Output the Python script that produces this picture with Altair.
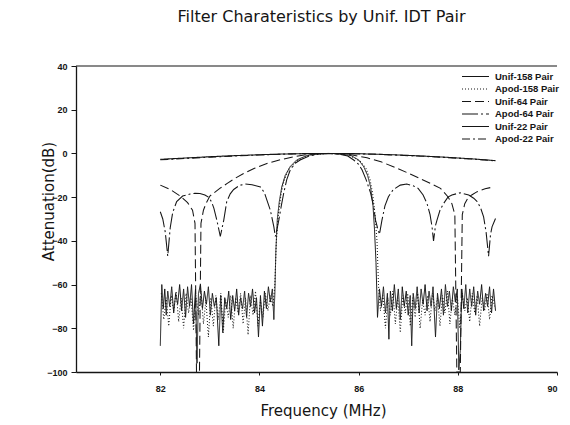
import altair as alt
import pandas as pd

# ---------------- data ----------------
NAMES = ["Unif-158 Pair", "Apod-158 Pair", "Unif-64 Pair", "Apod-64 Pair", "Unif-22 Pair", "Apod-22 Pair"]

U158_F = [82.00, 82.03, 82.06, 82.09, 82.12, 82.15, 82.19, 82.23, 82.27, 82.31, 82.35, 82.39, 82.43, 82.47,
          82.51, 82.55, 82.59, 82.63, 82.67, 82.71, 82.74, 82.77, 82.81, 82.85, 82.89, 82.93, 82.97, 83.01,
          83.05, 83.09, 83.13, 83.18, 83.22, 83.26, 83.30, 83.34, 83.38, 83.42, 83.46, 83.50, 83.54, 83.58,
          83.62, 83.66, 83.70, 83.74, 83.78, 83.82, 83.86, 83.90, 83.94, 83.98, 84.02, 84.06, 84.10, 84.14,
          84.18, 84.22, 84.26, 84.29,
          84.31, 84.33, 84.36, 84.40, 84.45, 84.52, 84.62, 84.75, 84.95, 85.15, 85.39, 85.65, 85.85, 86.00,
          86.10, 86.18, 86.24, 86.29, 86.32, 86.35, 86.38,
          86.42, 86.46, 86.50, 86.54, 86.58, 86.61, 86.64, 86.68, 86.72, 86.76, 86.80, 86.84, 86.88, 86.92,
          86.96, 87.00, 87.04, 87.07, 87.10, 87.14, 87.18, 87.22, 87.26, 87.30, 87.34, 87.38, 87.42, 87.46,
          87.50, 87.55, 87.59, 87.63, 87.67, 87.71, 87.75, 87.79, 87.83, 87.87, 87.91, 87.95, 87.99, 88.02,
          88.05, 88.08, 88.12, 88.16, 88.20, 88.24, 88.28, 88.32, 88.36, 88.40, 88.44, 88.48, 88.52, 88.56,
          88.60, 88.64, 88.68, 88.72, 88.76]
U158_A = [-88, -60, -71, -62, -74, -63, -70, -61, -73, -64, -69, -60, -72, -62,
          -75, -61, -70, -60, -78, -62, -96, -64, -60, -71, -63, -69, -61, -74,
          -64, -70, -66, -88, -65, -82, -66, -71, -63, -76, -65, -72, -62, -74,
          -66, -71, -63, -75, -64, -70, -62, -73, -66, -84, -65, -79, -63, -71,
          -61, -68, -62, -76,
          -64, -45, -30, -22, -15.3, -10, -6, -3, -1, -0.2, 0, -0.2, -1, -3,
          -6, -10, -15.3, -24, -35, -50, -75,
          -62, -70, -61, -73, -64, -85, -63, -72, -60, -71, -62, -76, -61, -70,
          -63, -74, -65, -88, -64, -71, -61, -73, -62, -69, -60, -72, -63, -70,
          -61, -84, -64, -71, -62, -74, -60, -70, -63, -72, -61, -68, -62, -99,
          -90, -62, -71, -60, -73, -62, -70, -61, -74, -63, -69, -60, -72, -64,
          -70, -61, -73, -62, -72]

A158_F = [82.02, 82.07, 82.12, 82.17, 82.22, 82.27, 82.32, 82.37, 82.42, 82.47, 82.52, 82.57, 82.62, 82.67,
          82.72, 82.77, 82.82, 82.87, 82.92, 82.97, 83.02, 83.07, 83.12, 83.17, 83.22, 83.27, 83.32, 83.37,
          83.42, 83.47, 83.52, 83.57, 83.62, 83.67, 83.72, 83.77, 83.82, 83.87, 83.92, 83.97, 84.02, 84.07,
          84.12, 84.17, 84.22, 84.27,
          84.31, 84.34, 84.38, 84.44, 84.50, 84.60, 84.75, 85.00, 85.39, 85.80, 86.03, 86.15, 86.23, 86.28,
          86.33, 86.37, 86.40,
          86.44, 86.49, 86.54, 86.59, 86.64, 86.69, 86.74, 86.79, 86.84, 86.89, 86.94, 86.99, 87.04, 87.09,
          87.14, 87.19, 87.24, 87.29, 87.34, 87.39, 87.44, 87.49, 87.54, 87.59, 87.64, 87.69, 87.74, 87.79,
          87.84, 87.89, 87.94, 87.99, 88.04, 88.09, 88.14, 88.19, 88.24, 88.29, 88.34, 88.39, 88.44, 88.49,
          88.54, 88.59, 88.64, 88.69, 88.74]
A158_A = [-64, -76, -66, -79, -65, -72, -63, -77, -66, -80, -64, -73, -66, -81,
          -65, -74, -63, -78, -67, -84, -66, -79, -65, -76, -64, -82, -67, -75,
          -65, -80, -66, -73, -64, -78, -66, -83, -65, -74, -63, -79, -67, -75,
          -64, -72, -65, -70,
          -60, -40, -28, -18, -12, -7, -3.5, -0.8, 0, -0.8, -3.5, -7, -12, -18,
          -28, -40, -60,
          -72, -65, -80, -66, -74, -63, -78, -66, -82, -65, -73, -64, -79, -66,
          -75, -64, -80, -67, -74, -65, -77, -64, -72, -66, -79, -65, -73, -63,
          -78, -66, -74, -65, -80, -64, -72, -66, -77, -64, -73, -65, -79, -66,
          -72, -64, -76, -65, -70]

U64_F = [82.00, 82.20, 82.40, 82.55, 82.65, 82.70, 82.73, 82.79, 82.82, 82.87, 82.92, 83.00, 83.20, 83.35,
         83.50, 83.68, 83.90, 84.15, 84.40, 84.69, 85.00, 85.39, 85.80, 86.17, 86.45, 86.70, 87.00, 87.24,
         87.45, 87.65, 87.80, 87.88, 87.94, 87.98, 88.05, 88.09, 88.14, 88.20, 88.28, 88.39, 88.55, 88.72]
U64_A = [-14.5, -16.5, -19.5, -22.5, -26, -32, -100, -100, -32, -26, -23, -19.5, -16, -13.7,
         -11.5, -9.2, -6.8, -4.6, -3, -1.5, -0.4, 0, -0.4, -2, -3.8, -6.1, -9, -11.5,
         -13.7, -16, -19.8, -23, -28, -100, -100, -28, -23, -20.5, -19, -17.5, -16.2, -15.3]

A64_F = [82.00, 82.05, 82.10, 82.15, 82.20, 82.25, 82.33, 82.45, 82.60, 82.70, 82.80, 82.90, 82.97, 83.03,
         83.08, 83.14, 83.21, 83.28, 83.34, 83.41, 83.48, 83.60, 83.71, 83.85, 84.02, 84.10, 84.15, 84.22,
         84.29, 84.32, 84.36, 84.39, 84.44, 84.49, 84.55, 84.62, 84.72, 84.82, 85.00, 85.20, 85.39, 85.60,
         85.78, 85.90, 86.00, 86.07, 86.15, 86.24, 86.30, 86.34, 86.38, 86.42, 86.47, 86.53, 86.60, 86.70,
         86.84, 86.97, 87.10, 87.20, 87.30, 87.38, 87.44, 87.48, 87.51, 87.55, 87.58, 87.64, 87.71, 87.80,
         87.88, 88.05, 88.22, 88.32, 88.39, 88.46, 88.52, 88.57, 88.62, 88.66, 88.69, 88.76]
A64_A = [-26.7, -30, -36, -47, -34, -27, -22, -19.5, -18.6, -18.2, -18.3, -19, -20, -22,
         -25, -30.5, -38, -30.5, -22, -18.5, -16.5, -14.6, -14, -14.3, -15.3, -18, -21.4, -26,
         -33.6, -38, -34, -30.5, -24, -18, -12, -7.6, -4.5, -3, -1.2, -0.3, 0, -0.3,
         -1.2, -3, -5, -7.6, -12, -18, -24, -30.5, -34, -37, -30.5, -24, -19.8, -16.5,
         -14.5, -14, -14.8, -16, -19, -23, -28, -33.6, -40, -33, -30.5, -26, -23, -20,
         -19, -18, -19, -20.5, -22, -25, -29, -36, -47, -37, -33.6, -29.8]

U22_F = [82.0, 82.5, 83.0, 83.5, 84.0, 84.5, 85.0, 85.4, 85.8, 86.3, 86.8, 87.3, 87.8, 88.3, 88.76]
U22_A = [-2.7, -2.1, -1.5, -1.0, -0.6, -0.25, -0.05, 0, -0.05, -0.3, -0.7, -1.2, -1.8, -2.5, -3.3]

A22_F = [82.0, 82.5, 83.0, 83.5, 84.0, 84.5, 85.0, 85.4, 85.8, 86.3, 86.8, 87.3, 87.8, 88.3, 88.76]
A22_A = [-2.9, -2.3, -1.7, -1.2, -0.7, -0.3, -0.1, 0, -0.1, -0.35, -0.8, -1.3, -1.9, -2.6, -3.4]

X_TICKS = [82, 84, 86, 88, 90]
Y_TICKS = [-100, -80, -60, -40, -20, 0, 20, 40]
TOP_LINE = [40]

# ---------------- build table ----------------
rows = []
for name, fs, As in [(NAMES[4], U22_F, U22_A), (NAMES[5], A22_F, A22_A),
                     (NAMES[1], A158_F, A158_A), (NAMES[0], U158_F, U158_A),
                     (NAMES[2], U64_F, U64_A), (NAMES[3], A64_F, A64_A)]:
    for f, a in zip(fs, As):
        rows.append({"f": f, "att": a, "series": name})
df = pd.DataFrame(rows)

DASHES = [[1, 0], [1, 2], [9, 4], [16, 3, 2, 3], [1, 0], [8, 3, 2, 3]]
WIDTHS = [1.0, 1.1, 1.3, 1.3, 1.8, 1.2]
INK = "#151515"

leg = alt.Legend(title=None, orient="none", legendX=392, legendY=3)

xs = alt.Scale(domain=[80.3, 90], nice=False, zero=False)
ys = alt.Scale(domain=[-100, 40], nice=False, zero=False)
yaxis = alt.Axis(values=Y_TICKS, format="d", title="Attenuation(dB)",
                 titleX=-28, titleY=135, titleAlign="center",
                 titleBaseline="middle", titleAngle=-90,
                 tickSize=5, labelPadding=4)

lines = alt.Chart(df).mark_line(color=INK, clip=True).encode(
    x=alt.X("f:Q", scale=xs, axis=alt.Axis(values=X_TICKS, format="d", title="Frequency (MHz)",
                                           titleX=247, titleY=38, titleBaseline="middle",
                                           tickSize=3, labelPadding=9)),
    y=alt.Y("att:Q", scale=ys, axis=yaxis),
    strokeDash=alt.StrokeDash("series:N", scale=alt.Scale(domain=NAMES, range=DASHES), legend=leg),
    strokeWidth=alt.StrokeWidth("series:N", scale=alt.Scale(domain=NAMES, range=WIDTHS), legend=leg),
    detail="series:N",
)

top = alt.Chart(pd.DataFrame({"att": TOP_LINE})).mark_rule(color=INK, strokeWidth=1.2).encode(
    y=alt.Y("att:Q", scale=ys, axis=yaxis)
)

chart = alt.layer(lines, top).properties(
    width=481, height=306,
    autosize=alt.AutoSizeParams(type="none"),
    padding={"left": 68, "top": 58, "right": 5, "bottom": 52},
    title=alt.TitleParams("Filter Charateristics by Unif. IDT Pair", font="DejaVu Sans", fontSize=16,
                          fontWeight="normal", color=INK, anchor="middle", dx=5, offset=24,
                          baseline="alphabetic"),
).configure_view(stroke=None).configure_axis(
    grid=False, domainColor=INK, domainWidth=1.3, tickColor=INK, tickWidth=1,
    labelFont="Liberation Sans", labelFontSize=9, labelFontWeight="bold", labelColor=INK,
    titleFont="DejaVu Sans", titleFontSize=15, titleFontWeight="normal", titleColor=INK,
).configure_legend(
    labelFont="Liberation Sans", labelFontSize=9.5, labelFontWeight="bold", labelColor=INK,
    symbolType="M-2,0H2", symbolSize=182, symbolStrokeColor=INK, labelOffset=12, rowPadding=0.5,
    padding=0, labelLimit=0,
)

chart.save("out.html", embed_options={"renderer": "svg", "actions": False})
